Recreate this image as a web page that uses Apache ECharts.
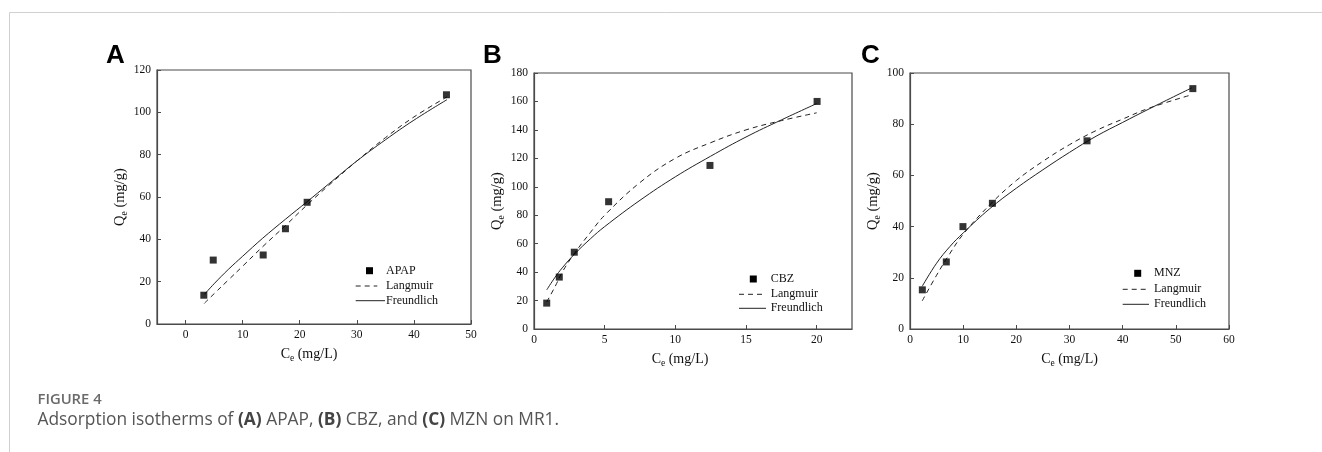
<!DOCTYPE html>
<html>
<head>
<meta charset="utf-8">
<script src="https://cdn.jsdelivr.net/npm/echarts@6/dist/echarts.min.js"></script>
<style>
html,body{margin:0;padding:0;background:#fff;}
#c{width:1322px;height:452px;}
</style>
</head>
<body>
<div id="c"></div>
<script>
// ---- Panel A: APAP ----
const apapCe = [3.2, 4.85, 13.6, 17.5, 21.3, 45.7];
const apapQe = [13.6, 30.2, 32.6, 45.0, 57.5, 108.3];
const langA_Ce = [3.3, 5, 7.5, 10, 13.5, 17.5, 21.3, 25, 30, 35, 40, 45.8];
const langA_Qe = [9.8, 14.3, 20.8, 27.3, 36.5, 46.5, 56.3, 65.3, 77.0, 88.0, 97.8, 107.3];
const freA_Ce = [3.3, 5, 7.5, 10, 13.5, 17.5, 21.3, 25, 30, 35, 40, 45.8];
const freA_Qe = [14.0, 19.0, 25.8, 32.0, 40.5, 49.5, 57.8, 66.0, 77.0, 87.0, 96.3, 106.0];
const xTicksA = [0, 10, 20, 30, 40, 50];

// ---- Panel B: CBZ ----
const cbzCe = [0.9, 1.79, 2.85, 5.28, 12.45, 20.03];
const cbzQe = [18.2, 36.5, 54.0, 89.5, 115.0, 160.0];
const langB_Ce = [0.9, 1.5, 2, 2.85, 4, 5, 7.5, 10, 12.5, 15, 17.5, 20];
const langB_Qe = [19, 30, 40, 53, 68, 80, 103, 120, 131, 140, 146.5, 152];
const freB_Ce = [0.9, 1.5, 2, 2.85, 4, 5, 7.5, 10, 12.5, 15, 17.5, 20];
const freB_Qe = [27.5, 36.5, 43, 52.5, 63.5, 72, 90.5, 107, 121.5, 135, 147, 158.5];
const xTicksB = [0, 5, 10, 15, 20];

// ---- Panel C: MNZ ----
const mnzCe = [2.32, 6.83, 9.96, 15.5, 33.3, 53.2];
const mnzQe = [15.3, 26.2, 40.0, 49.1, 73.5, 93.9];
const langC_Ce = [2.3, 5, 7.5, 10, 15, 20, 25, 30, 35, 40, 45, 53];
const langC_Qe = [11, 21, 29.5, 37, 48.5, 58, 65.5, 72, 77.5, 82, 86.3, 91.5];
const freC_Ce = [2.3, 5, 7.5, 10, 15, 20, 25, 30, 35, 40, 45, 53];
const freC_Qe = [16.7, 25.7, 32.2, 37.5, 47, 55, 62.2, 69, 75.3, 80.7, 86, 94.2];
const xTicksC = [0, 10, 20, 30, 40, 50, 60];

const pairs = (xs, ys) => xs.map((x, i) => [x, ys[i]]);

const SERIF = 'Liberation Serif';
const AX = '#4a4a4a';
const INK = '#111';

const grids = [
  {left: 157, top: 70, width: 314, height: 254},
  {left: 534, top: 73, width: 318, height: 256},
  {left: 910, top: 73, width: 319, height: 256}
];

function xAxis(idx, min, max, ticks, namePad) {
  return {
    type: 'value', gridIndex: idx, min: min, max: max,
    name: '{a|C}{b|e}{a| (mg/L)}', nameLocation: 'middle', nameGap: 22,
    nameTextStyle: {padding: namePad, rich: {
      a: {fontFamily: SERIF, fontSize: 14, color: INK},
      b: {fontFamily: SERIF, fontSize: 9.5, color: INK, padding: [7, 0, 0, 0]}
    }},
    axisLine: {show: true, onZero: false, lineStyle: {color: AX, width: 1.2}},
    axisTick: {show: true, inside: true, length: 4, customValues: ticks, lineStyle: {color: AX}},
    axisLabel: {customValues: ticks, margin: 5, fontFamily: SERIF, fontSize: 11.5, color: INK},
    splitLine: {show: false}
  };
}
function yAxis(idx, max, interval) {
  return {
    type: 'value', gridIndex: idx, min: 0, max: max, interval: interval,
    name: '{a|Q}{b|e}{a| (mg/g)}', nameLocation: 'middle', nameGap: 28,
    nameTextStyle: {rich: {
      a: {fontFamily: SERIF, fontSize: 14.5, color: INK},
      b: {fontFamily: SERIF, fontSize: 9.5, color: INK, padding: [7, 0, 0, 0]}
    }},
    axisLine: {show: true, onZero: false, lineStyle: {color: AX, width: 1.2}},
    axisTick: {show: true, inside: true, length: 4, lineStyle: {color: AX}},
    axisLabel: {margin: 6, fontFamily: SERIF, fontSize: 11.5, color: INK},
    splitLine: {show: false}
  };
}

function scatter(idx, name, xs, ys) {
  return {type: 'scatter', name: name, xAxisIndex: idx, yAxisIndex: idx,
    data: pairs(xs, ys), symbol: 'rect', symbolSize: 7,
    itemStyle: {color: '#000'}, z: 5};
}
function curve(idx, name, xs, ys, dashed) {
  return {type: 'line', name: name, xAxisIndex: idx, yAxisIndex: idx,
    data: pairs(xs, ys), smooth: 0.4, showSymbol: false, symbol: 'none',
    lineStyle: {color: '#222', width: 1, type: dashed ? [5, 4] : 'solid'}, z: 3};
}

function legend(mx, my, tx, dashX1, dashX2, dashY, solX2, solY, label) {
  const ts = {fontFamily: SERIF, fontSize: 12, fill: INK, verticalAlign: 'middle', align: 'left'};
  return [
    {type: 'rect', shape: {x: mx - 3.5, y: my - 3.5, width: 7, height: 7}, style: {fill: '#000'}},
    {type: 'text', x: tx, y: my, style: Object.assign({text: label}, ts)},
    {type: 'line', shape: {x1: dashX1, y1: dashY, x2: dashX2, y2: dashY}, style: {stroke: '#222', lineWidth: 1, lineDash: [5, 4]}},
    {type: 'text', x: tx, y: dashY, style: Object.assign({text: 'Langmuir'}, ts)},
    {type: 'line', shape: {x1: dashX1, y1: solY, x2: solX2, y2: solY}, style: {stroke: '#222', lineWidth: 1}},
    {type: 'text', x: tx, y: solY, style: Object.assign({text: 'Freundlich'}, ts)}
  ];
}

const letterStyle = {fontFamily: 'Liberation Sans', fontSize: 26, fontWeight: 'bold', fill: '#000', verticalAlign: 'middle', align: 'left'};

const chart = echarts.init(document.getElementById('c'), null, {renderer: 'canvas'});
chart.setOption({
  backgroundColor: '#fff',
  animation: false,
  grid: grids.map(g => Object.assign({show: true, borderColor: AX, borderWidth: 1.2, backgroundColor: 'transparent'}, g)),
  xAxis: [
    xAxis(0, -5, 50, xTicksA, [0, 10, 0, 0]),
    xAxis(1, 0, 22.5, xTicksB, [0, 26, 0, 0]),
    xAxis(2, 0, 60, xTicksC, [0, 0, 0, 0])
  ],
  yAxis: [yAxis(0, 120, 20), yAxis(1, 180, 20), yAxis(2, 100, 20)],
  series: [
    scatter(0, 'APAP', apapCe, apapQe),
    curve(0, 'Langmuir', langA_Ce, langA_Qe, true),
    curve(0, 'Freundlich', freA_Ce, freA_Qe, false),
    scatter(1, 'CBZ', cbzCe, cbzQe),
    curve(1, 'Langmuir', langB_Ce, langB_Qe, true),
    curve(1, 'Freundlich', freB_Ce, freB_Qe, false),
    scatter(2, 'MNZ', mnzCe, mnzQe),
    curve(2, 'Langmuir', langC_Ce, langC_Qe, true),
    curve(2, 'Freundlich', freC_Ce, freC_Qe, false)
  ],
  graphic: [].concat(
    [
      {type: 'line', shape: {x1: 9.5, y1: 12.5, x2: 1322, y2: 12.5}, style: {stroke: '#d0d0d0', lineWidth: 1}},
      {type: 'line', shape: {x1: 9.5, y1: 12.5, x2: 9.5, y2: 452}, style: {stroke: '#d0d0d0', lineWidth: 1}},
      {type: 'text', x: 106, y: 56, style: Object.assign({text: 'A'}, letterStyle)},
      {type: 'text', x: 483, y: 56, style: Object.assign({text: 'B'}, letterStyle)},
      {type: 'text', x: 861, y: 56, style: Object.assign({text: 'C'}, letterStyle)},
      {type: 'text', x: 37.5, y: 399.5, style: {text: 'FIGURE 4', fontFamily: 'Open Sans', fontSize: 14.8, fontWeight: 600, fill: '#6a6a6a', verticalAlign: 'middle', align: 'left'}},
      {type: 'text', x: 37.5, y: 420, style: {
        text: 'Adsorption isotherms of {b|(A)} APAP, {b|(B)} CBZ, and {b|(C)} MZN on MR1.',
        fontFamily: 'Open Sans', fontSize: 17.35, fill: '#555', verticalAlign: 'middle', align: 'left',
        rich: {b: {fontFamily: 'Open Sans', fontSize: 17.35, fontWeight: 'bold', fill: '#444'}}
      }}
    ],
    legend(369.5, 270.7, 386, 355.7, 377.3, 286, 385, 300.7, 'APAP'),
    legend(753.3, 279, 770.7, 739, 763, 294.3, 766, 308.3, 'CBZ'),
    legend(1137.7, 273.3, 1154, 1122.7, 1146, 289.3, 1149, 304.3, 'MNZ')
  )
});
</script>
</body>
</html>
